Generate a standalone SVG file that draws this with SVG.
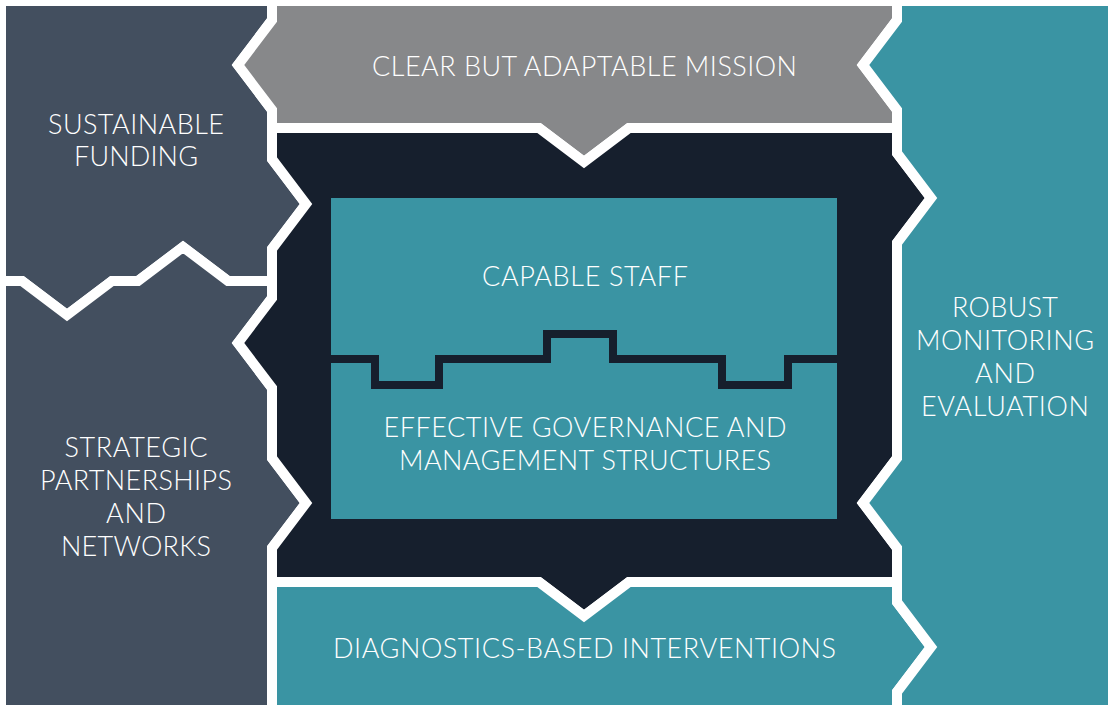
<svg xmlns="http://www.w3.org/2000/svg" width="1114" height="712" viewBox="0 0 1114 712">
<style>
.pc{stroke:#ffffff;stroke-width:10;stroke-linejoin:miter}
.slate{fill:#434f5f}
.grey{fill:#87888a}
.dark{fill:#161f2d}
.teal{fill:#3a94a3}
.t{fill:#ffffff;font-family:Lato,"Liberation Sans",sans-serif;font-weight:300;font-size:27px;text-anchor:middle}
</style>
<rect width="1114" height="712" fill="#ffffff"/>
<g id="sustainable-funding">
<path class="pc slate" d="M1,1 H272 V20 L238,65 L272,110 V159 L306,204 L272,249 V281 H228 L183,247 L138,281 H112 L67,315 L22,281 H1 Z"/>
<text class="t" x="136" y="134" textLength="176">SUSTAINABLE</text>
<text class="t" x="136" y="166" textLength="124">FUNDING</text>
</g>
<g id="strategic-partnerships">
<path class="pc slate" d="M1,281 H22 L67,315 L112,281 H138 L183,247 L228,281 H272 V298 L238,343 L272,388 V458 L306,503 L272,548 V710 H1 Z"/>
<text class="t" x="136" y="457" textLength="143">STRATEGIC</text>
<text class="t" x="136" y="490" textLength="192">PARTNERSHIPS</text>
<text class="t" x="136" y="523" textLength="60">AND</text>
<text class="t" x="136" y="556" textLength="150">NETWORKS</text>
</g>
<g id="clear-mission">
<path class="pc grey" d="M272,1 H897 V20 L863,65 L897,110 V128 H629 L584,162 L539,128 H272 V110 L238,65 L272,20 Z"/>
<text class="t" x="584.5" y="76" textLength="425">CLEAR BUT ADAPTABLE MISSION</text>
</g>
<g id="core">
<path class="pc dark" d="M272,128 H539 L584,162 L629,128 H897 V153 L931,198 L897,243 V458 L863,503 L897,548 V582 H629 L584,616 L539,582 H272 V548 L306,503 L272,458 V388 L238,343 L272,298 V249 L306,204 L272,159 Z"/>
<rect class="teal" x="331" y="198" width="506" height="321"/>
<path d="M331,359 H375 V385 H439 V359 H547 V334 H613 V359 H722 V385 H788 V359 H837" fill="none" stroke="#161f2d" stroke-width="8" stroke-linejoin="miter"/>
<text class="t" x="585" y="286" textLength="206">CAPABLE STAFF</text>
<text class="t" x="585" y="437" textLength="403">EFFECTIVE GOVERNANCE AND</text>
<text class="t" x="585" y="470" textLength="372">MANAGEMENT STRUCTURES</text>
</g>
<g id="diagnostics">
<path class="pc teal" d="M272,582 H539 L584,616 L629,582 H897 V602 L931,647 L897,692 V710 H272 Z"/>
<text class="t" x="584.5" y="658" textLength="503">DIAGNOSTICS-BASED INTERVENTIONS</text>
</g>
<g id="monitoring">
<path class="pc teal" d="M897,1 H1113 V710 H897 V692 L931,647 L897,602 V548 L863,503 L897,458 V243 L931,198 L897,153 V110 L863,65 L897,20 Z"/>
<text class="t" x="1005" y="317" textLength="106">ROBUST</text>
<text class="t" x="1005" y="350" textLength="178">MONITORING</text>
<text class="t" x="1005" y="383" textLength="60">AND</text>
<text class="t" x="1005" y="416" textLength="168">EVALUATION</text>
</g>
<g id="connectors"></g>
</svg>
